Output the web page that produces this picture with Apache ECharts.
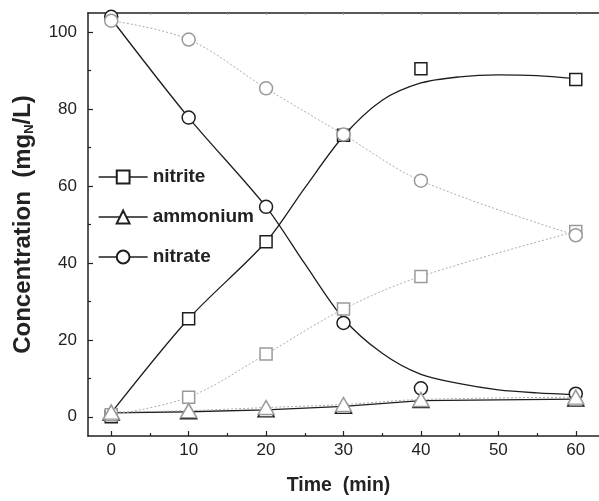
<!DOCTYPE html>
<html>
<head>
<meta charset="utf-8">
<script src="https://cdn.jsdelivr.net/npm/echarts@6/dist/echarts.min.js"></script>
<style>
  html, body { margin: 0; padding: 0; background: #fff; }
  #chart { width: 599px; height: 501px; }
</style>
</head>
<body>
<div id="chart"></div>
<script>
// tick labels
var xTicks = [0, 10, 20, 30, 40, 50, 60];
var xMinorTicks = [5, 15, 25, 35, 45, 55];
var yTicks = [0, 20, 40, 60, 80, 100];
var yMinorTicks = [10, 30, 50, 70, 90];

// run 1 (black) measured points [time, value]
var nitritePts = [[0, 0], [10, 25.5], [20, 45.5], [30, 73.2], [40, 90.5], [60, 87.7]];
var ammoniumPts = [[0, 1], [10, 1.3], [20, 1.8], [30, 2.7], [40, 4.2], [60, 4.6]];
var nitratePts = [[0, 104], [10, 77.8], [20, 54.6], [30, 24.4], [40, 7.4], [60, 6]];

// run 1 fitted curves
var nitriteFit = [[0, 1], [10, 25.5], [20, 45.5], [25, 59.5], [30, 73], [35, 82.3], [40, 86.8], [45, 88.4], [50, 88.9], [55, 88.7], [60, 87.9]];
var nitrateFit = [[0, 103.5], [10, 77.8], [20, 54.6], [25, 39.8], [30, 25.5], [35, 16.5], [40, 11], [45, 8.6], [50, 7], [55, 6.2], [60, 5.7]];

// run 2 (grey, dotted)
var nitriteB = [[0, 0.5], [10, 5.1], [20, 16.3], [30, 28], [40, 36.5], [60, 48.2]];
var ammoniumB = [[0, 1.2], [10, 1.6], [20, 2.4], [30, 3.2], [40, 4.5], [60, 5.1]];
var nitrateB = [[0, 103], [10, 98.1], [20, 85.4], [30, 73.4], [40, 61.4], [60, 47.2]];

var black = '#1e1e1e';
var grey = '#9a9a9a';
var dotted = '#ababab';

var myChart = echarts.init(document.getElementById('chart'));

function pts(name, data, symbol, size, color) {
  return {
    name: name, type: 'line', data: data,
    symbol: symbol, symbolSize: size,
    lineStyle: { opacity: 0 },
    itemStyle: { color: '#fff', borderColor: color, borderWidth: 1.5 },
    z: 3
  };
}

function fit(name, data, color, smooth) {
  return {
    name: name, type: 'line', data: data, symbol: 'none',
    smooth: smooth,
    lineStyle: { color: color, width: 1.3 },
    z: 2
  };
}

function greyRun(name, data, symbol, size) {
  return {
    name: name, type: 'line', data: data,
    symbol: symbol, symbolSize: size, smooth: 0.35,
    lineStyle: { color: dotted, width: 1, type: [2, 2] },
    itemStyle: { color: '#fff', borderColor: grey, borderWidth: 1.5 },
    z: 4
  };
}

var font = 'Liberation Sans, Arial, sans-serif';

myChart.setOption({
  animation: false,
  grid: { left: 88, top: 13, width: 513, height: 431 },
  legend: {
    data: ['nitrite', 'ammonium', 'nitrate'],
    orient: 'vertical',
    left: 98, top: 167,
    padding: 0,
    itemWidth: 49, itemHeight: 16, itemGap: 20,
    textStyle: { fontFamily: font, fontSize: 19, fontWeight: 'bold', color: '#222', lineHeight: 20 },
    lineStyle: { color: black, width: 1.3, opacity: 1, type: 'solid' }
  },
  xAxis: [{
    type: 'value', min: -3, max: 63, position: 'bottom',
    name: 'Time  (min)', nameLocation: 'middle', nameGap: 40,
    nameTextStyle: { fontFamily: font, fontSize: 19.5, fontWeight: 'bold', color: '#222', padding: [0, 10, 0, 0] },
    axisLine: { onZero: false, lineStyle: { color: '#222', width: 1.5 } },
    axisTick: { inside: true, length: 5, customValues: xTicks, lineStyle: { color: '#222', width: 1.2 } },
    axisLabel: { customValues: xTicks, margin: 6, fontFamily: font, fontSize: 17, color: '#222' },
    splitLine: { show: false }
  }, {
    type: 'value', min: -3, max: 63, position: 'bottom',
    axisLine: { onZero: false, show: false },
    axisTick: { inside: true, length: 3, customValues: xMinorTicks, lineStyle: { color: '#222', width: 1.2 } },
    axisLabel: { show: false },
    splitLine: { show: false }
  }, {
    type: 'value', min: -3, max: 63, position: 'top',
    axisLine: { onZero: false, lineStyle: { color: '#222', width: 1.5 } },
    axisTick: { inside: true, length: 2, customValues: xTicks.concat(xMinorTicks), lineStyle: { color: '#999', width: 1 } },
    axisLabel: { show: false },
    splitLine: { show: false }
  }],
  yAxis: [{
    type: 'value', min: -5, max: 105, position: 'left',
    name: '{b|Concentration  (mg}{s|N}{b|/L)}', nameLocation: 'middle', nameGap: 52,
    nameTextStyle: {
      rich: {
        b: { fontFamily: font, fontSize: 24, fontWeight: 'bold', color: '#222', lineHeight: 26 },
        s: { fontFamily: font, fontSize: 13, fontWeight: 'bold', color: '#222', lineHeight: 10, verticalAlign: 'bottom' }
      }
    },
    axisLine: { onZero: false, lineStyle: { color: '#222', width: 1.5 } },
    axisTick: { inside: true, length: 5, customValues: yTicks, lineStyle: { color: '#222', width: 1.2 } },
    axisLabel: { customValues: yTicks, margin: 11, fontFamily: font, fontSize: 17, color: '#222' },
    splitLine: { show: false }
  }, {
    type: 'value', min: -5, max: 105, position: 'left',
    axisLine: { onZero: false, show: false },
    axisTick: { inside: true, length: 3, customValues: yMinorTicks, lineStyle: { color: '#222', width: 1.2 } },
    axisLabel: { show: false },
    splitLine: { show: false }
  }],
  series: [
    fit('nitrite fit', nitriteFit, black, 0.3),
    fit('nitrate fit', nitrateFit, black, 0.3),
    {
      name: 'ammonium', type: 'line', data: ammoniumPts,
      symbol: 'triangle', symbolSize: [16, 14],
      lineStyle: { color: black, width: 1.3 },
      itemStyle: { color: '#fff', borderColor: black, borderWidth: 1.5 },
      z: 3
    },
    pts('nitrite', nitritePts, 'rect', 12, black),
    pts('nitrate', nitratePts, 'circle', 13, black),
    greyRun('nitrite 2', nitriteB, 'rect', 12),
    greyRun('nitrate 2', nitrateB, 'circle', 13),
    greyRun('ammonium 2', ammoniumB, 'triangle', [16, 14])
  ]
});
</script>
</body>
</html>
